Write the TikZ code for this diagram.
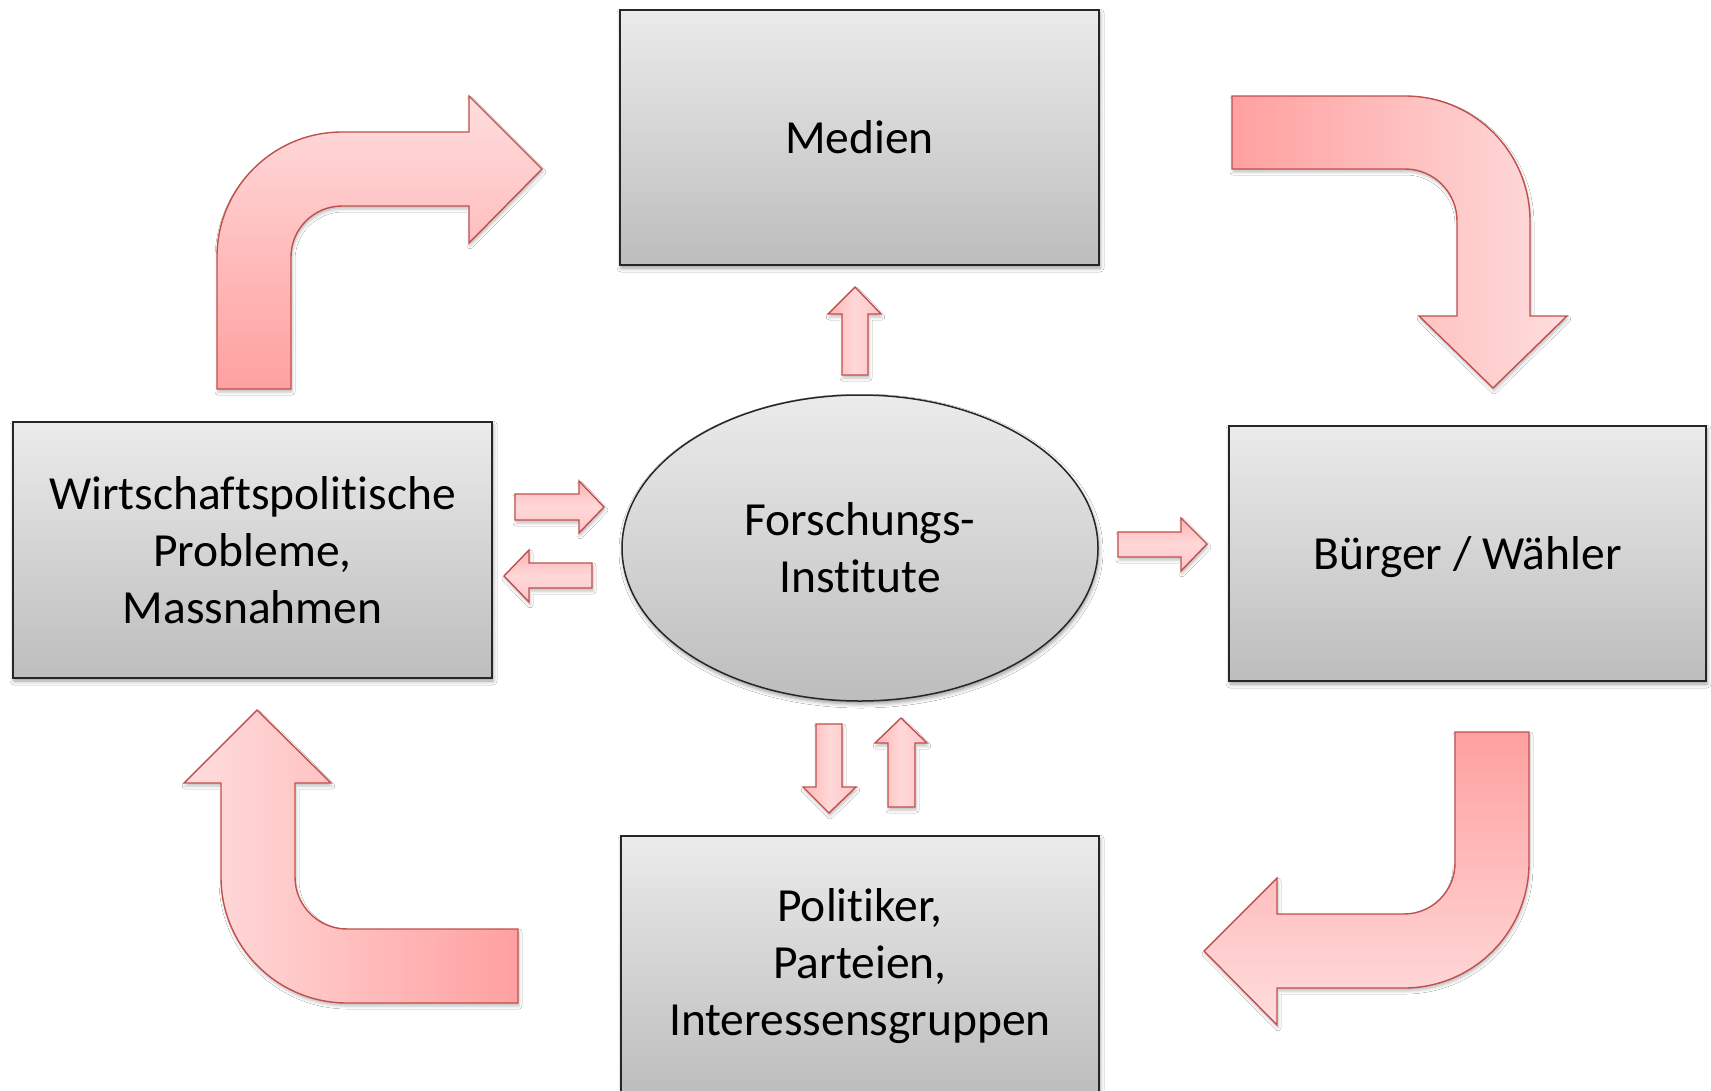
\documentclass[tikz,border=0pt]{standalone}
\usepackage{fontspec}
\setmainfont{Carlito}[Ligatures={NoCommon}]
\usetikzlibrary{shapes.geometric,shadows.blur}
\definecolor{boxtop}{HTML}{EBEBEB}
\definecolor{boxbot}{HTML}{BDBDBD}
\definecolor{arrline}{HTML}{C0504D}
\definecolor{arrlight}{HTML}{FFDDDD}
\definecolor{arrdark}{HTML}{FFA0A0}
\definecolor{sarredge}{HTML}{FFB4B4}
\definecolor{sarrmid}{HTML}{FFD8D8}
\definecolor{sarredgeb}{HTML}{FFC4C4}
\tikzset{
  boxshadow/.style={blur shadow={shadow xshift=1pt, shadow yshift=-3pt, shadow blur radius=4pt, shadow opacity=40}},
  arrshadow/.style={blur shadow={shadow xshift=1pt, shadow yshift=-3pt, shadow blur radius=3pt, shadow opacity=25}},
  box/.style={draw=black!85, line width=1.5pt, top color=boxtop, bottom color=boxbot,
    boxshadow, align=center, inner sep=0pt, font=\fontsize{47.5}{57}\selectfont},
  rectbox/.style={box, rectangle},
  ellbox/.style={box, ellipse},
  bigarrow/.style={draw=arrline, line width=1.4pt, line join=miter, arrshadow},
  sarrowh/.style={draw=arrline, line width=1.4pt, line join=miter, arrshadow,
    top color=sarredge, bottom color=sarredgeb, middle color=sarrmid},
  sarrowv/.style={draw=arrline, line width=1.4pt, line join=miter, arrshadow,
    left color=sarredge, right color=sarredgeb, middle color=sarrmid},
}
\begin{document}
\begin{tikzpicture}[x=1pt,y=-1pt]
\useasboundingbox (0,0) rectangle (1711,1090);
\fill[white] (0,0) rectangle (1711,1090);

% boxes
\node[rectbox, minimum width=479pt, minimum height=255pt] (medien) at (859.5,137.5) {Medien};
\node[rectbox, minimum width=479pt, minimum height=256pt] (wirt) at (252.5,550) {Wirtschaftspolitische\\Probleme,\\Massnahmen};
\node[rectbox, minimum width=477pt, minimum height=255pt, text depth=0pt] (buerger) at (1467.5,553.5) {Bürger / Wähler};
\node[rectbox, minimum width=478pt, minimum height=256pt, text depth=3.5pt] (politik) at (860,964) {Politiker,\\Parteien,\\Interessensgruppen};
\node[ellbox, minimum width=476pt, minimum height=306pt] (forsch) at (860,548) {Forschungs-\\Institute};

% big bent arrows
% top-left: from Wirtschaftspolitische to Medien
\path[bigarrow, top color=arrlight, bottom color=arrdark]
  (217,389) -- (217,257) arc[start angle=180, end angle=270, radius=125]
  -- (469,132) -- (469,96) -- (542,169) -- (469,243) -- (469,206) -- (342,206)
  arc[start angle=270, end angle=180, radius=51] -- (291,389) -- cycle;
% top-right: from Medien to Buerger
\path[bigarrow, left color=arrdark, right color=arrlight]
  (1232,96) -- (1405,96) arc[start angle=270, end angle=360, radius=125]
  -- (1530,316) -- (1567,316) -- (1493,388) -- (1419,316) -- (1457,316) -- (1457,221)
  arc[start angle=0, end angle=-90, radius=52] -- (1232,169) -- cycle;
% bottom-right: from Buerger to Politiker
\path[bigarrow, top color=arrdark, bottom color=arrlight]
  (1455,732) -- (1529,732) -- (1529,863) arc[start angle=0, end angle=90, radius=125]
  -- (1277,988) -- (1277,1025) -- (1204,951) -- (1277,878) -- (1277,914) -- (1404,914)
  arc[start angle=90, end angle=0, radius=51] -- cycle;
% bottom-left: from Politiker to Wirtschaftspolitische
\path[bigarrow, left color=arrlight, right color=arrdark]
  (518,929) -- (347,929) arc[start angle=90, end angle=180, radius=52]
  -- (295,783) -- (331,783) -- (257,710) -- (184,783) -- (221,783) -- (221,877)
  arc[start angle=180, end angle=90, radius=126] -- (518,1003) -- cycle;

% small arrows around the ellipse
% up to Medien
\path[sarrowv] (842,375) -- (842,314) -- (828,314) -- (855,287) -- (881,314) -- (868,314) -- (868,375) -- cycle;
% right to Forschung (from Wirt)
\path[sarrowh] (515,494) -- (579,494) -- (579,481) -- (604,507) -- (579,533) -- (579,520) -- (515,520) -- cycle;
% left to Wirt
\path[sarrowh] (592,563) -- (529,563) -- (529,550) -- (504,576) -- (529,602) -- (529,588) -- (592,588) -- cycle;
% right to Buerger
\path[sarrowh] (1118,532) -- (1181,532) -- (1181,518) -- (1207,544) -- (1181,571) -- (1181,557) -- (1118,557) -- cycle;
% down to Politiker
\path[sarrowv] (816,724) -- (842,724) -- (842,787) -- (856,787) -- (829,813) -- (803,787) -- (816,787) -- cycle;
% up from Politiker
\path[sarrowv] (888,807) -- (888,743) -- (875,743) -- (901,718) -- (927,743) -- (915,743) -- (915,807) -- cycle;
\end{tikzpicture}
\end{document}
